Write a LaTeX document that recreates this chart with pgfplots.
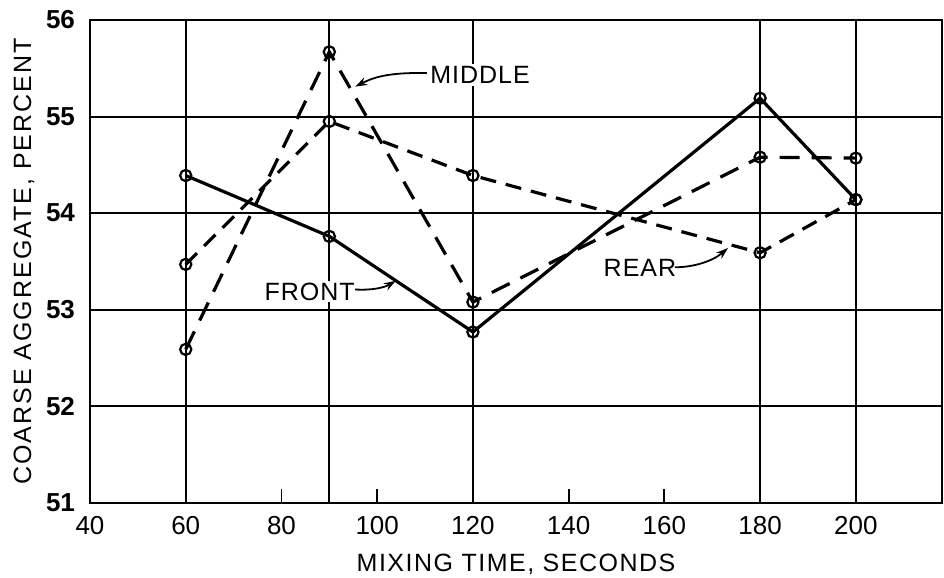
\documentclass[border=0pt]{standalone}
\usepackage{fontspec}
\setmainfont{Liberation Sans}
\usepackage{pgfplots}
\pgfplotsset{compat=1.18}
\usetikzlibrary{arrows.meta}
\begin{document}
\begin{tikzpicture}
\begin{axis}[
  scale only axis,
  width=426pt, height=241.5pt,
  xmin=40, xmax=218, ymin=51, ymax=56,
  xtick={40,60,...,200},
  ytick={51,52,...,56},
  tick align=inside,
  xtick pos=bottom, ytick pos=left,
  major tick length=7pt,
  x tick style={line width=0.9pt, black},
  y tick style={draw=none},
  ymajorgrids,
  major grid style={line width=1pt, black},
  extra x ticks={60,90,120,180,200},
  extra x tick labels={},
  extra x tick style={grid=major, major tick length=0pt},
  axis line style={line width=1.2pt},
  /pgf/number format/assume math mode=true,
  xticklabel style={font=\fontsize{13}{15}\selectfont, yshift=-3pt},
  yticklabel style={font=\fontsize{13}{15}\selectfont\bfseries, xshift=-4pt},
  xlabel={MIXING TIME, SECONDS},
  ylabel={COARSE AGGREGATE, PERCENT},
  xlabel style={font=\fontsize{12.5}{15}\selectfont\addfontfeatures{LetterSpace=6}, yshift=-3pt},
  ylabel style={font=\fontsize{12.5}{15}\selectfont\addfontfeatures{LetterSpace=8}, yshift=-1pt},
  every axis plot/.append style={line width=1.6pt, black},
  clip=false,
]
% FRONT (solid)
\addplot[mark=o, mark size=2.8pt, mark options={solid, fill=white, line width=1.1pt}] coordinates {
  (60,54.39) (90,53.76) (120,52.77) (180,55.19) (200,54.14)};
% MIDDLE (long dashes)
\addplot[mark=o, mark size=2.8pt, dash pattern=on 10pt off 6pt, mark options={solid, fill=white, line width=1.1pt}] coordinates {
  (60,52.59) (90,55.67) (120,53.08) (180,54.58) (200,54.57)};
% REAR (medium dashes)
\addplot[mark=o, mark size=2.8pt, dash pattern=on 8pt off 5pt, mark options={solid, fill=white, line width=1.1pt}] coordinates {
  (60,53.47) (90,54.95) (120,54.39) (180,53.59) (200,54.14)};

\node[fill=white, inner sep=1pt, font=\fontsize{12.5}{15}\selectfont\addfontfeatures{LetterSpace=4}] at (axis cs:121.5,55.43) {MIDDLE};
\draw[line width=0.9pt, -{Stealth[length=6pt,width=4pt]}] (axis cs:110.4,55.45) .. controls (axis cs:102,55.46) and (axis cs:99,55.40) .. (axis cs:95.4,55.31);

\node[fill=white, inner sep=1pt, font=\fontsize{12.5}{15}\selectfont\addfontfeatures{LetterSpace=4}] at (axis cs:85.9,53.19) {FRONT};
\draw[line width=0.9pt, -{Stealth[length=6pt,width=4pt]}] (axis cs:95.4,53.21) .. controls (axis cs:99,53.20) and (axis cs:101.5,53.23) .. (axis cs:103.9,53.30);

\node[fill=white, inner sep=1pt, font=\fontsize{12.5}{15}\selectfont\addfontfeatures{LetterSpace=4}] at (axis cs:154.9,53.43) {REAR};
\draw[line width=0.9pt, -{Stealth[length=6pt,width=4pt]}] (axis cs:162.2,53.44) .. controls (axis cs:166,53.44) and (axis cs:170,53.50) .. (axis cs:173.3,53.64);
\end{axis}
\pgfresetboundingbox
\path ([xshift=-45pt,yshift=-37.5pt]current axis.south west) rectangle ([xshift=1pt,yshift=10pt]current axis.north east);
\end{tikzpicture}
\end{document}
